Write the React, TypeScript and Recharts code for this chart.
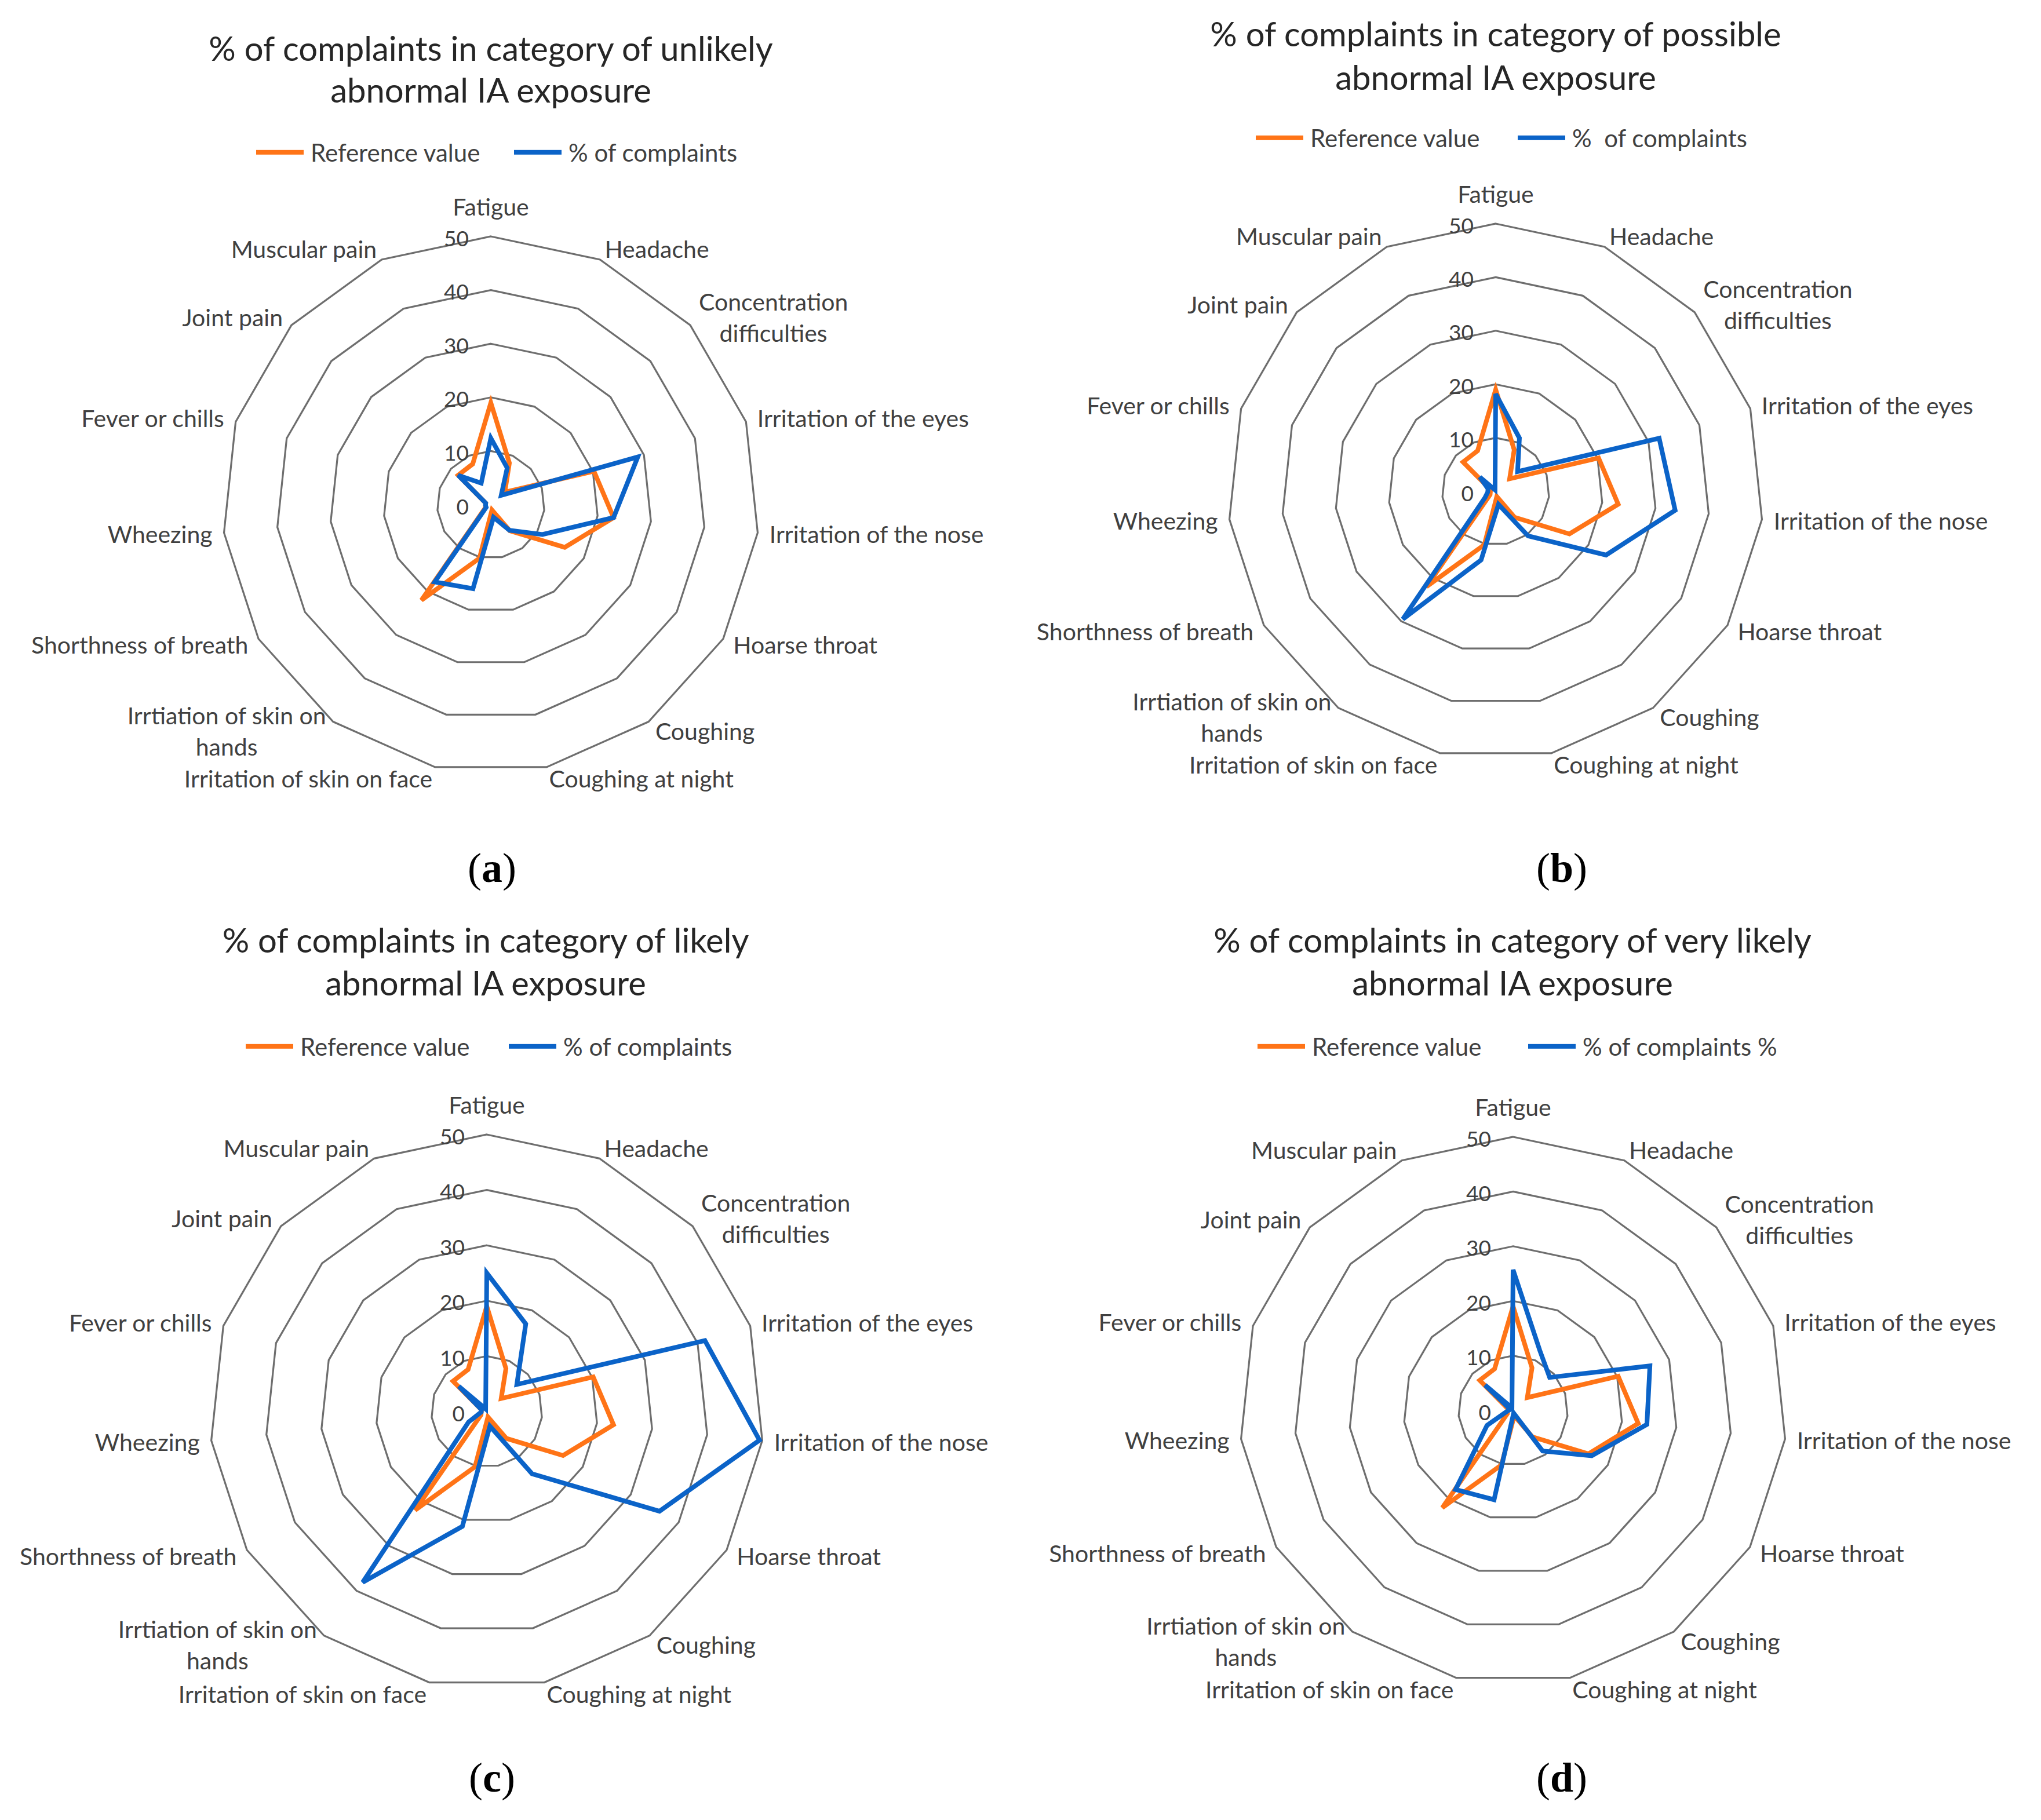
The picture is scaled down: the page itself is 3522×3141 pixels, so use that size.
import React from 'react';
import { RadarChart, PolarGrid, PolarAngleAxis, PolarRadiusAxis, Radar } from 'recharts';

// ---------- data ----------
const categories = [
  'Fatigue',
  'Headache',
  'Concentration difficulties',
  'Irritation of the eyes',
  'Irritation of the nose',
  'Hoarse throat',
  'Coughing',
  'Coughing at night',
  'Irritation of skin on face',
  'Irrtiation of skin on hands',
  'Shorthness of breath',
  'Wheezing',
  'Fever or chills',
  'Joint pain',
  'Muscular pain',
];

const categoryLabelLines = [
  ['Fatigue'],
  ['Headache'],
  ['Concentration', 'difficulties'],
  ['Irritation of the eyes'],
  ['Irritation of the nose'],
  ['Hoarse throat'],
  ['Coughing'],
  ['Coughing at night'],
  ['Irritation of skin on face'],
  ['Irrtiation of skin on', 'hands'],
  ['Shorthness of breath'],
  ['Wheezing'],
  ['Fever or chills'],
  ['Joint pain'],
  ['Muscular pain'],
];

const referenceValue = [19, 8.5, 3.5, 20.2, 23, 15.9, 6, 1, 10.2, 22, 1.2, 1, 1, 8.2, 8.3];
const unlikelyComplaints = [12.4, 7.5, 2.6, 28.8, 23, 11.1, 5.9, 2.4, 16, 17.8, 1, 1, 1, 8.2, 4.4];
const possibleComplaints = [18.2, 10.9, 5.5, 32.1, 33.7, 23.8, 10.3, 2.5, 13.1, 29.5, 2.3, 1.5, 1.5, 4, 0.3];
const likelyComplaints = [25, 17.3, 7.3, 41.4, 49.5, 36, 13.9, 2.7, 21.2, 38.1, 3.8, 1, 1, 6.8, 0.5];
const veryLikelyComplaints = [25.7, 12, 9, 26.3, 24.6, 16.6, 9.2, 0.5, 16.7, 17.9, 5.5, 1, 0.5, 6.9, 0.5];

const radiusTicks = [0, 10, 20, 30, 40, 50];

const titleA = ['% of complaints in category of unlikely', 'abnormal IA exposure'];
const titleB = ['% of complaints in category of possible', 'abnormal IA exposure'];
const titleC = ['% of complaints in category of likely', 'abnormal IA exposure'];
const titleD = ['% of complaints in category of very likely', 'abnormal IA exposure'];

const referenceName = 'Reference value';
const seriesNameA = '% of complaints';
const seriesNameB = '%  of complaints';
const seriesNameC = '% of complaints';
const seriesNameD = '% of complaints %';

// ---------- style ----------
const FONT = "Lato, 'Open Sans', sans-serif";
const ORANGE = '#FF7417';
const BLUE = '#0B63C8';
const GRID = '#6e6e6e';
const TEXT = '#404040';
const LABEL_SIZE = 41;
const LABEL_LINE_H = 54;
const TICK_SIZE = 37;
const TITLE_SIZE = 58;
const LEGEND_SIZE = 42;
const PANEL_W = 1761;
const PANEL_H = 1570;

let measureCtx: CanvasRenderingContext2D | null = null;
function textWidth(s: string, size: number): number {
  if (!measureCtx) {
    const c = document.createElement('canvas');
    measureCtx = c.getContext('2d');
  }
  if (!measureCtx) return s.length * size * 0.5;
  measureCtx.font = `${size}px ${FONT}`;
  return measureCtx.measureText(s).width;
}

function makeAngleTick(cx: number, cy: number, R: number) {
  return (props: any) => {
    let idx = typeof props.index === 'number' ? props.index : -1;
    if (idx < 0 || categories[idx] !== props.payload?.value) {
      idx = categories.indexOf(props.payload?.value);
    }
    if (idx < 0) return <g />;
    const lines = categoryLabelLines[idx];
    const theta = ((90 - (idx * 360) / categories.length) * Math.PI) / 180;
    const dx = Math.cos(theta);
    const dy = -Math.sin(theta);
    const vx = cx + R * dx;
    const vy = cy + R * dy;
    const gap = 20;
    const x = vx + gap * dx;
    let y = vy + gap * dy;
    const nearVertical = Math.abs(dx) < 0.05;
    if (nearVertical) y += dy * 32;
    const maxW = Math.max(...lines.map((l) => textWidth(l, LABEL_SIZE)));
    let centerX = x;
    if (!nearVertical) centerX = dx > 0 ? x + maxW / 2 : x - maxW / 2;
    const y0 = y - ((lines.length - 1) * LABEL_LINE_H) / 2;
    return (
      <g>
        {lines.map((l, i) => (
          <text
            key={i}
            x={centerX}
            y={y0 + i * LABEL_LINE_H}
            textAnchor="middle"
            dominantBaseline="central"
            fontSize={LABEL_SIZE}
            fontFamily={FONT}
            fill={TEXT}
          >
            {l}
          </text>
        ))}
      </g>
    );
  };
}

const radiusTick = (props: any) => {
  const { x, y, payload } = props;
  return (
    <text
      x={x - 38}
      y={y + 2}
      textAnchor="end"
      dominantBaseline="central"
      fontSize={TICK_SIZE}
      fontFamily={FONT}
      fill={TEXT}
    >
      {payload.value}
    </text>
  );
};

type Panel = {
  key: string;
  title: string[];
  seriesName: string;
  values: number[];
  left: number;
  top: number;
  cx: number;
  cy: number;
  r: number;
  titleX: number;
  titleY: number[];
  legendY: number;
  legendX: number[];
  letterX: number;
  letterY: number;
};

const panels: Panel[] = [
  { key: 'a', title: titleA, seriesName: seriesNameA, values: unlikelyComplaints, left: 0, top: 0, cx: 847, cy: 871, r: 463, titleX: 847, titleY: [83, 155], legendY: 263, legendX: [442, 887], letterX: 849, letterY: 1498 },
  { key: 'b', title: titleB, seriesName: seriesNameB, values: possibleComplaints, left: 1761, top: 0, cx: 820, cy: 848, r: 462, titleX: 820, titleY: [58, 133], legendY: 238, legendX: [406, 858], letterX: 934, letterY: 1498 },
  { key: 'c', title: titleC, seriesName: seriesNameC, values: likelyComplaints, left: 0, top: 1570, cx: 840, cy: 866, r: 478, titleX: 838, titleY: [52, 126], legendY: 236, legendX: [424, 878], letterX: 849, letterY: 1498 },
  { key: 'd', title: titleD, seriesName: seriesNameD, values: veryLikelyComplaints, left: 1761, top: 1570, cx: 850, cy: 864, r: 472, titleX: 849, titleY: [52, 126], legendY: 236, legendX: [409, 876], letterX: 934, letterY: 1498 },
];

function LegendItem({ x, y, color, label }: { x: number; y: number; color: string; label: string }) {
  return (
    <div
      style={{
        position: 'absolute',
        left: x,
        top: y,
        transform: 'translateY(-50%)',
        display: 'flex',
        alignItems: 'center',
        whiteSpace: 'pre',
        fontFamily: FONT,
        fontSize: LEGEND_SIZE,
        color: TEXT,
        lineHeight: 1.2,
      }}
    >
      <div style={{ width: 82, height: 8, background: color, marginRight: 12 }} />
      <span>{label}</span>
    </div>
  );
}

function RadarPanel({ p }: { p: Panel }) {
  const data = categories.map((name, i) => ({
    name,
    reference: referenceValue[i],
    complaints: p.values[i],
  }));
  return (
    <div style={{ position: 'absolute', left: p.left, top: p.top, width: PANEL_W, height: PANEL_H }}>
      {p.title.map((t, i) => (
        <div
          key={i}
          style={{
            position: 'absolute',
            left: p.titleX,
            top: p.titleY[i],
            transform: 'translate(-50%, -50%)',
            whiteSpace: 'nowrap',
            fontFamily: FONT,
            fontSize: TITLE_SIZE,
            color: '#262626',
            lineHeight: 1.2,
          }}
        >
          {t}
        </div>
      ))}
      <LegendItem x={p.legendX[0]} y={p.legendY} color={ORANGE} label={referenceName} />
      <LegendItem x={p.legendX[1]} y={p.legendY} color={BLUE} label={p.seriesName} />
      <div style={{ position: 'absolute', left: 0, top: 0 }}>
        <RadarChart
          width={PANEL_W}
          height={PANEL_H}
          data={data}
          cx={p.cx}
          cy={p.cy}
          outerRadius={p.r}
          startAngle={90}
          endAngle={-270}
          margin={{ top: 0, right: 0, bottom: 0, left: 0 }}
        >
          <PolarGrid gridType="polygon" radialLines={false} stroke={GRID} strokeWidth={3.2} />
          <PolarAngleAxis
            dataKey="name"
            tick={makeAngleTick(p.cx, p.cy, p.r)}
            tickLine={false}
            axisLine={false}
          />
          <PolarRadiusAxis
            angle={90}
            domain={[0, 50]}
            ticks={radiusTicks}
            tickCount={6}
            axisLine={false}
            tickLine={false}
            tick={radiusTick}
          />
          <Radar
            name={referenceName}
            dataKey="reference"
            stroke={ORANGE}
            strokeWidth={8}
            fill="none"
            fillOpacity={0}
            dot={false}
            isAnimationActive={false}
          />
          <Radar
            name={p.seriesName}
            dataKey="complaints"
            stroke={BLUE}
            strokeWidth={8}
            fill="none"
            fillOpacity={0}
            dot={false}
            isAnimationActive={false}
          />
        </RadarChart>
      </div>
      <div
        style={{
          position: 'absolute',
          left: p.letterX,
          top: p.letterY,
          transform: 'translate(-50%, -50%)',
          fontFamily: "'Liberation Serif', 'DejaVu Serif', serif",
          fontSize: 72,
          color: '#000',
          whiteSpace: 'nowrap',
          lineHeight: 1.2,
        }}
      >
        (<b>{p.key}</b>)
      </div>
    </div>
  );
}

export default function App() {
  return (
    <div
      style={{
        position: 'absolute',
        left: 0,
        top: 0,
        width: 3522,
        height: 3141,
        background: '#fff',
        overflow: 'hidden',
      }}
    >
      {panels.map((p) => (
        <RadarPanel key={p.key} p={p} />
      ))}
    </div>
  );
}
